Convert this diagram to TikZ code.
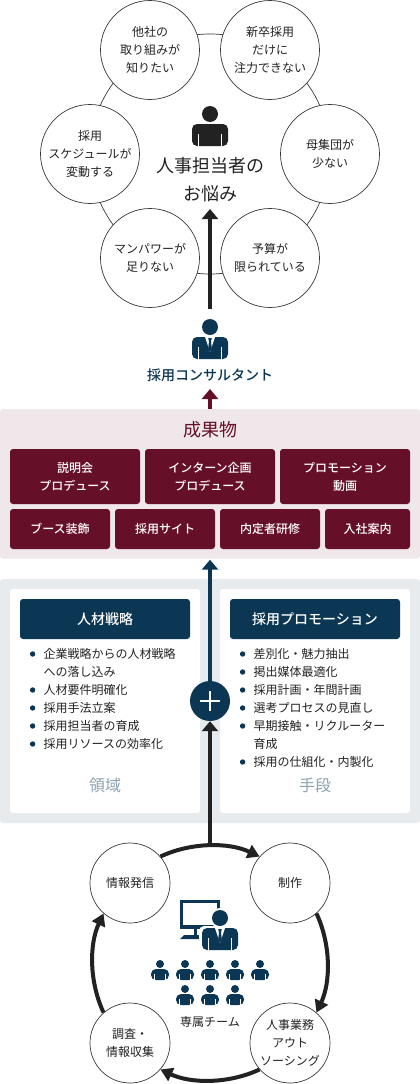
\documentclass[tikz,border=0pt]{standalone}
\usepackage{fontspec}
\setmainfont{Noto Sans CJK JP}
\newfontfamily\mediumfont{Noto Sans CJK JP Medium}
\usetikzlibrary{arrows.meta,positioning,calc}
\definecolor{navy}{HTML}{0B3654}
\definecolor{wine}{HTML}{660F28}
\definecolor{ink}{HTML}{222222}
\definecolor{rosepanel}{HTML}{EFE7EA}
\definecolor{greypanel}{HTML}{E7EBEE}
\definecolor{fadetext}{HTML}{8EA3B2}

\begin{document}
\begin{tikzpicture}[
    x=1pt, y=-1pt,
    worry/.style={draw=ink!90, line width=0.7pt, fill=white, circle, minimum size=99pt, inner sep=0pt, align=center, font=\fontsize{12}{18}\selectfont, text=ink},
    task/.style={worry, minimum size=80pt},
    ring/.style={draw=ink!90, line width=0.7pt, circle, minimum size=240pt},
    panel/.style={rounded corners=3pt, minimum width=420pt, inner sep=0pt},
    card/.style={fill=white, rounded corners=3pt, minimum width=190pt, minimum height=224pt},
    head/.style={fill=navy, text=white, rounded corners=3pt, minimum width=170pt, minimum height=40pt, font=\fontsize{14}{18}\selectfont\mediumfont},
    product/.style={fill=wine, text=white, rounded corners=3pt, inner sep=0pt, align=center, font=\fontsize{12}{18}\selectfont\mediumfont},
    item/.style={anchor=west, inner sep=0pt, text=ink, font=\fontsize{12}{18}\selectfont, label={[dotmark, label distance=8pt]left:{}}},
    wrapline/.style={anchor=west, inner sep=0pt, text=ink, font=\fontsize{12}{18}\selectfont},
    dotmark/.style={circle, fill=navy, minimum size=5.4pt, inner sep=0pt},
    faint/.style={text=fadetext, font=\fontsize{16}{20}\selectfont},
    arr/.style={-{Triangle[length=10pt, width=16pt]}, line width=4pt},
    cycle/.style={-{Triangle[length=12pt, width=14pt]}, line width=4pt, draw=ink, looseness=0.88},
    clerk/.pic={
        \fill (0,0) circle (8);
        \fill[rounded corners=5] (-18,32) -- (-18,10) -- (18,10) -- (18,32) -- cycle;
        \fill[white] (-12.2,20) rectangle (-10.6,32);
        \fill[white] (10.6,20) rectangle (12.2,32);
    },
    suit/.pic={
        \pic {clerk};
        \fill[white] (-5,10) -- (5,10) -- (0,25) -- cycle;
        \fill[navy] (-1.8,11) -- (1.8,11) -- (1,14.5) -- (1.8,21) -- (0,25) -- (-1.8,21) -- (-1,14.5) -- cycle;
    }
]
\useasboundingbox (0,0) rectangle (420,1084);

% worries
\node[ring] (loop) at (210,154) {};
\node[worry] (w1) at (150,50) {他社の\\取り組みが\\知りたい};
\node[worry] (w2) at (270,50) {新卒採用\\だけに\\注力できない};
\node[worry] (w3) at (330,154) {母集団が\\少ない};
\node[worry] (w4) at (270,258) {予算が\\限られている};
\node[worry] (w5) at (150,258) {マンパワーが\\足りない};
\node[worry] (w6) at (90,154) {採用\\スケジュールが\\変動する};
\pic[fill=ink] at (210,114) {clerk};
\node[align=center, text=ink, font=\fontsize{18}{28}\selectfont] (hr) at (210,180) {人事担当者の\\お悩み};

% consultant
\coordinate (advisorTop) at (210,309);
\coordinate (hrFoot) at (210,209);
\draw[arr, draw=ink] (advisorTop) -- (hrFoot);
\pic[fill=navy] at (210,327) {suit};
\node[text=navy, font=\fontsize{14}{18}\selectfont\mediumfont] (advisor) at (210,375) {採用コンサルタント};

% results
\node[panel, fill=rosepanel, minimum height=149.5pt] (result) at (210,483.75) {};
\coordinate (advisorFoot) at (210,389);
\draw[arr, draw=wine] (result.north) -- (advisorFoot);
\node[text=wine, font=\fontsize{18}{20}\selectfont] (resultTitle) at (210,430) {成果物};
\node[product, minimum width=130pt, minimum height=55pt] (r1) at (75,476.5) {説明会\\プロデュース};
\node[product, minimum width=130pt, minimum height=55pt] (r2) at (210,476.5) {インターン企画\\プロデュース};
\node[product, minimum width=130pt, minimum height=55pt] (r3) at (345,476.5) {プロモーション\\動画};
\node[product, minimum width=100pt, minimum height=40pt] (r4) at (60,529) {ブース装飾};
\node[product, minimum width=100pt, minimum height=40pt] (r5) at (165,529) {採用サイト};
\node[product, minimum width=100pt, minimum height=40pt] (r6) at (270,529) {内定者研修};
\node[product, minimum width=85pt, minimum height=40pt] (r7) at (367.5,529) {入社案内};

% strategy and means
\node[panel, fill=greypanel, minimum height=244pt] (base) at (210,701) {};
\node[card] (left) at (105,701) {};
\node[card] (right) at (315,701) {};
\node[head] (h1) at (105,619) {人材戦略};
\node[head] (h2) at (315,619) {採用プロモーション};

\node[item] (a1) at (43.5,654) {企業戦略からの人材戦略};
\node[wrapline] (a1b) at (43.5,672) {への落し込み};
\node[item] (a2) at (43.5,690) {人材要件明確化};
\node[item] (a3) at (43.5,708) {採用手法立案};
\node[item] (a4) at (43.5,726) {採用担当者の育成};
\node[item] (a5) at (43.5,744) {採用リソースの効率化};
\node[faint] (field) at (105,785) {領域};

\node[item] (b1) at (253.5,654) {差別化・魅力抽出};
\node[item] (b2) at (253.5,672) {掲出媒体最適化};
\node[item] (b3) at (253.5,690) {採用計画・年間計画};
\node[item] (b4) at (253.5,708) {選考プロセスの見直し};
\node[item] (b5) at (253.5,726) {早期接触・リクルーター};
\node[wrapline] (b5b) at (253.5,744) {育成};
\node[item] (b6) at (253.5,762) {採用の仕組化・内製化};
\node[faint] (means) at (315,785) {手段};

\node[circle, fill=navy, minimum size=40pt, inner sep=0pt] (plus) at (210,701) {};
\draw[white, line width=1.2pt] ($(plus)+(-10,0)$) -- ($(plus)+(10,0)$);
\draw[white, line width=1.2pt] ($(plus)+(0,-10)$) -- ($(plus)+(0,10)$);
\draw[arr, draw=navy, shorten >=1pt] (plus.north) -- (result.south);

% team cycle
\node[task] (t1) at (130,883) {情報発信};
\node[task] (t2) at (290,883) {制作};
\node[task] (t3) at (290,1043) {人事業務\\アウト\\ソーシング};
\node[task] (t4) at (130,1043) {調査・\\情報収集};
\draw[cycle] (t1.41) to[out=25, in=155] (t2.139);
\draw[cycle] (t2.-49) to[out=-65, in=65] (t3.49);
\draw[cycle] (t3.-139) to[out=-155, in=-25] (t4.-41);
\draw[cycle] (t4.131) to[out=115, in=-115] (t1.-131);
\coordinate (teamTop) at (210,846);
\draw[arr, draw=ink] (teamTop) -- (plus.south);

% monitor and team
\draw[navy, line width=3.2pt] (181.6,901.6) rectangle (218.4,927);
\fill[navy] (194,928) rectangle (197,936);
\fill[navy] (184,935) -- (204,935) -- (204,939) -- (180,939) -- cycle;
\fill[white] (220,918) circle (10);
\fill[white, rounded corners=5] (199,950) -- (199,926) -- (240,926) -- (240,950) -- cycle;
\pic[fill=navy] at (220,918) {suit};
\pic[fill=navy, scale=0.5] at (160,964) {clerk};
\pic[fill=navy, scale=0.5] at (185,964) {clerk};
\pic[fill=navy, scale=0.5] at (210,964) {clerk};
\pic[fill=navy, scale=0.5] at (235,964) {clerk};
\pic[fill=navy, scale=0.5] at (260,964) {clerk};
\pic[fill=navy, scale=0.5] at (185,989) {clerk};
\pic[fill=navy, scale=0.5] at (210,989) {clerk};
\pic[fill=navy, scale=0.5] at (235,989) {clerk};
\node[text=ink, font=\fontsize{12}{18}\selectfont] (team) at (210,1021.5) {専属チーム};
\end{tikzpicture}
\end{document}
